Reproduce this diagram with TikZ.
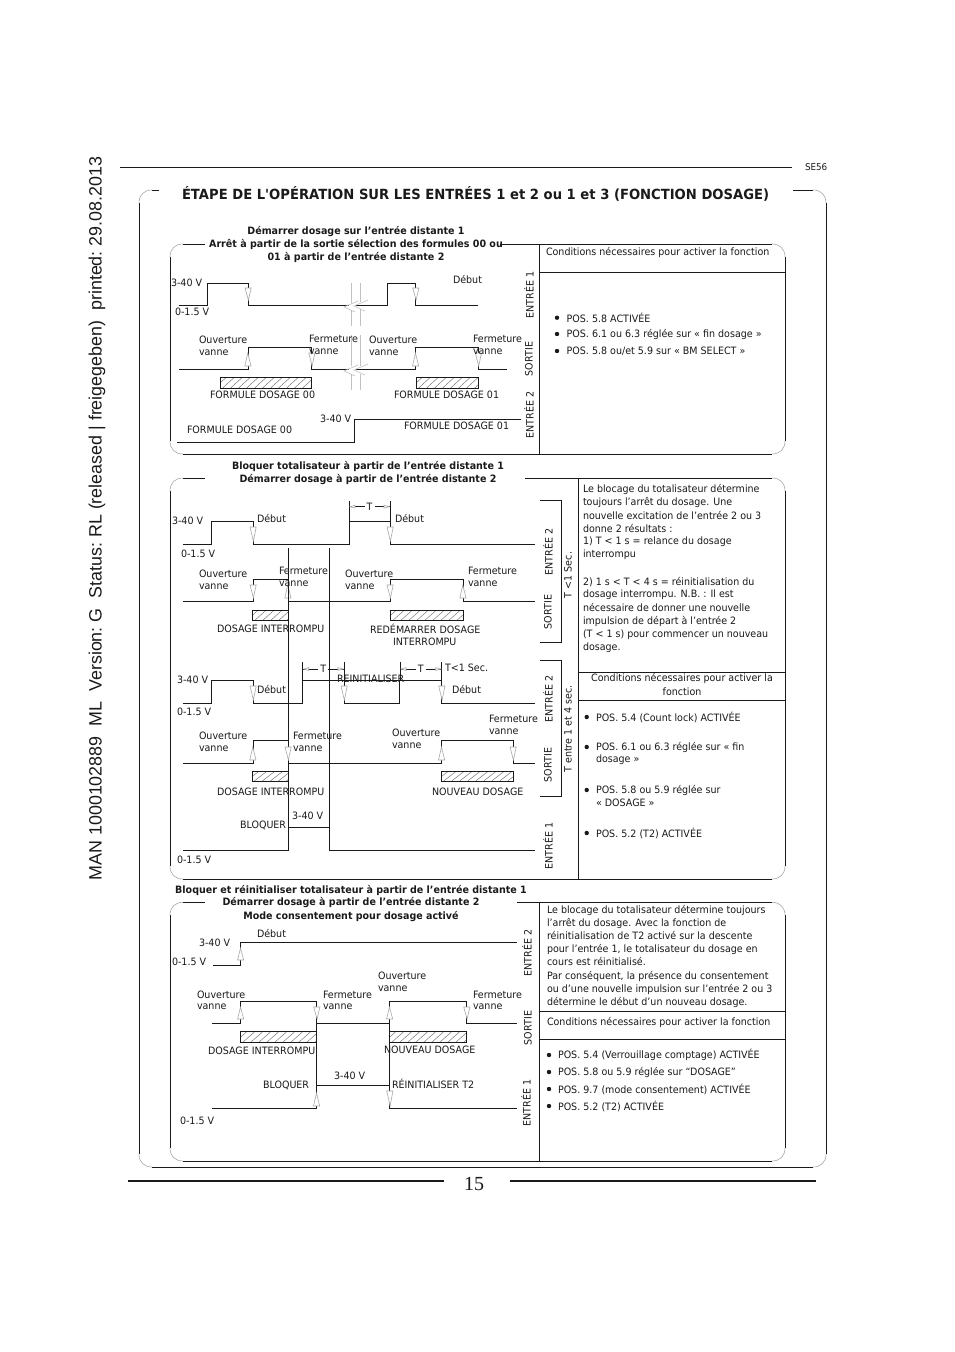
\documentclass[tikz,border=0pt]{standalone}
\usepackage{fontspec}
\setmainfont{DejaVu Sans}[FakeStretch=0.94,Ligatures=TeXOff]
\newfontfamily\sidefont{Liberation Sans}
\newfontfamily\numfont{Liberation Serif}
\newcounter{lbl}
\definecolor{ink}{HTML}{1A1A1A}
\definecolor{tip}{HTML}{A8A8A8}
\tikzset{
  x=0.75pt,y=-0.75pt,
  txt/.style={inner sep=0pt,outer sep=0pt,anchor=west,text=ink,font=\fontsize{7.6pt}{9pt}\selectfont},
  vtxt/.style={txt,anchor=center,rotate=90},
  ctxt/.style={txt,anchor=center},
  ttl/.style={txt,anchor=center,font=\fontsize{7.6pt}{9pt}\selectfont\bfseries},
  sig/.style={draw=ink,line width=0.65pt,line join=miter},
  thin line/.style={draw=ink,line width=0.42pt},
  corner/.style={draw=tip,line width=0.45pt},
  frame line/.style={draw=ink,line width=0.62pt},
  tiptri/.style={draw=tip,line width=0.45pt,fill=white},
  hat/.style={draw=tip!70!black,line width=0.35pt},
  brk/.style={draw=tip!70,line width=0.45pt},
}
\newcommand\lab[3][]{\stepcounter{lbl}\node[txt,#1] (l\arabic{lbl}) at (#2) {#3};}
\newcommand\panel[6]{%
  \draw[frame line] (#1,{#2+13})--(#1,{#4-13}) ({#1+13},#4)--({#3-13},#4) (#3,{#4-13})--(#3,{#2+13}) ({#3-13},#2)--(#6,#2) (#5,#2)--({#1+13},#2);
  \draw[corner] (#1,{#2+13}) .. controls (#1,{#2+5}) and ({#1+5},#2) .. ({#1+13},#2);
  \draw[corner] (#1,{#4-13}) .. controls (#1,{#4-5}) and ({#1+5},#4) .. ({#1+13},#4);
  \draw[corner] (#3,{#2+13}) .. controls (#3,{#2+5}) and ({#3-5},#2) .. ({#3-13},#2);
  \draw[corner] (#3,{#4-13}) .. controls (#3,{#4-5}) and ({#3-5},#4) .. ({#3-13},#4);
}
% triangle with apex down at (x,ybot) / apex up at (x,ytop)
\newcommand\tdown[3]{\draw[tiptri] ({#1-3},#2)--({#1+3.2},#2)--({#1+0.4},#3)--cycle;}
\newcommand\tup[3]{\draw[tiptri] ({#1-3.2},#3)--({#1+3},#3)--({#1-0.2},#2)--cycle;}
\newcommand\hatchbox[4]{%
  \begin{scope}
    \clip (#1,#2) rectangle (#3,#4);
    \foreach \d in {0,8,...,104}{\draw[hat] ({#1+\d-6},#4)--({#1+\d+6},#2);}
  \end{scope}
  \draw[thin line,line width=0.55pt] (#1,#2) rectangle (#3,#4);
}
% T dimension: x1, x2, y, tick top, bottom of left tick, bottom of right tick
\newcommand\tmark[6]{%
  \draw[thin line,line width=0.55pt] (#1,#4)--(#1,#5) (#2,#4)--(#2,#6);
  \draw[thin line] (#1,#3)--({(#1+#2)/2-5},#3) ({(#1+#2)/2+5},#3)--(#2,#3);
  \draw[tiptri] ({#1+1},#3)--({#1+6},{#3-1.4})--({#1+6},{#3+1.4})--cycle;
  \draw[tiptri] ({#2-1},#3)--({#2-6},{#3-1.4})--({#2-6},{#3+1.4})--cycle;
  \lab[ctxt]{{(#1+#2)/2},#3}{T}
}
\newcommand\dotb[2]{\fill[ink] (#1,#2) circle (2.2);}
\begin{document}
\begin{tikzpicture}
\useasboundingbox (0,0) rectangle (954,1352);
\fill[white] (0,0) rectangle (954,1352);
% margin text
\stepcounter{lbl}\node[inner sep=0pt,anchor=center,rotate=90,text=ink,font=\sidefont\fontsize{13.4pt}{16pt}\selectfont] (side) at (97,518.5) {MAN\ 1000102889\ \ ML\ \ Version:\ G\ \ Status:\ RL\ (released\ |\ freigegeben)\ \ printed:\ 29.08.2013};
% header and footer
\draw[frame line] (120,167)--(792,167);
\lab[font=\fontsize{7pt}{8pt}\selectfont]{805,167}{SE56}
\panel{139}{190}{826}{1167}{159}{793}
\lab[font=\fontsize{10.5pt}{12pt}\selectfont\bfseries]{182,194}{ÉTAPE DE L'OPÉRATION SUR LES ENTRÉES 1 et 2 ou 1 et 3 (FONCTION DOSAGE)}
\draw[draw=ink,line width=1.6pt] (128,1181)--(444,1181) (510,1181)--(816,1181);
\stepcounter{lbl}\node[inner sep=0pt,anchor=center,text=ink,font=\numfont\fontsize{15pt}{17pt}\selectfont] (page) at (474,1184) {15};

%% PANEL 1
\panel{170}{244}{785}{454}{205}{500}
\draw[frame line] (539.3,244)--(539.3,454) (539.3,272.3)--(785,272.3);
\lab[ttl]{356,232}{Démarrer dosage sur l’entrée distante 1}
\lab[ttl]{356,245}{Arrêt à partir de la sortie sélection des formules 00 ou}
\lab[ttl]{356,258}{01 à partir de l’entrée distante 2}
\draw[sig] (179,305)--(207.7,305)--(207.7,283.3)--(248,283.3)--(248,305)--(349,305) (356,305)--(387,305)--(387,283.3)--(415.7,283.3)--(415.7,305)--(477.7,305);
\tdown{248}{288}{300}\tdown{415.7}{288}{300}
\draw[sig] (179,369.7)--(248,369.7)--(248,347.3)--(311.7,347.3)--(311.7,369.7)--(349,369.7) (356,369.7)--(415.7,369.7)--(415.7,347.3)--(478.3,347.3)--(478.3,369.7)--(506.7,369.7);
\tup{248}{353}{366}\tdown{311.7}{353}{366}\tup{415.7}{353}{366}\tdown{478.3}{353}{366}
\hatchbox{220.3}{377.3}{311.7}{388.3}\hatchbox{416.3}{377.3}{478.3}{388.3}
\draw[sig] (177,442.3)--(354.3,442.3)--(354.3,419)--(521,419);
% break marks
\draw[brk] (351,283)--(351,303) (351,310)--(351,326) (360.7,283)--(360.7,302) (360.7,309)--(360.7,326);
\draw[brk] (351,335)--(351,366) (351,374)--(351,390) (360.7,335)--(360.7,366) (360.7,374)--(360.7,390);
\draw[brk] (358,301)--(344,307)--(355,312) (368,300)--(354,306)--(365,311);
\draw[brk] (358,365)--(344,371)--(355,376) (368,364)--(354,370)--(365,375);
\lab{171,283}{3-40 V}\lab{175,312}{0-1.5 V}\lab{453,280}{Début}
\lab{199,340}{Ouverture}\lab{199,353}{vanne}
\lab{309,339}{Fermeture}\lab{309,352}{vanne}
\lab{369,340}{Ouverture}\lab{369,353}{vanne}
\lab{473,339}{Fermeture}\lab{473,352}{vanne}
\lab{210,395}{FORMULE DOSAGE 00}\lab{394,395}{FORMULE DOSAGE 01}
\lab{320,419}{3-40 V}\lab{187,430}{FORMULE DOSAGE 00}\lab{404,426}{FORMULE DOSAGE 01}
\lab[vtxt]{529,295}{ENTRÉE 1}\lab[vtxt]{529,359}{SORTIE}\lab[vtxt]{529,415}{ENTRÉE 2}
\lab{546,253}{Conditions nécessaires pour activer la fonction}
\dotb{557}{317.7}\dotb{557}{334}\dotb{557}{351}
\lab{566.7,318}{POS. 5.8 ACTIVÉE}
\lab{566.7,334}{POS. 6.1 ou 6.3 réglée sur « fin dosage »}
\lab{566.7,351}{POS. 5.8 ou/et 5.9 sur « BM SELECT »}

%% PANEL 2
\panel{170}{478}{785}{879}{205}{525}
\draw[frame line] (578.5,478)--(578.5,879) (578.5,672.7)--(785,672.7) (578.5,700.7)--(785,700.7);
\draw[frame line] (540,500)--(561.7,500)--(561.7,642)--(540,642);
\draw[frame line] (540,660)--(561.7,660)--(561.7,796)--(540,796);
\lab[ttl]{368,466}{Bloquer totalisateur à partir de l’entrée distante 1}
\lab[ttl]{368,480}{Démarrer dosage à partir de l’entrée distante 2}
\draw[sig] (183,544.3)--(211,544.3)--(211,521)--(253,521)--(253,544.3)--(349,544.3)--(349,521)--(390,521)--(390,544.3)--(535,544.3);
\tdown{253}{527}{541}\tdown{390}{527}{541}
\draw[sig] (183,601)--(253,601)--(253,579)--(288,579)--(288,601)--(390,601)--(390,579)--(463,579)--(463,601)--(535,601);
\tdown{253}{585}{598}\tup{288}{585}{598}\tdown{390}{585}{598}\tup{463}{585}{598}
\hatchbox{252.3}{610}{288}{620.7}\hatchbox{390.5}{610}{463}{620.7}
\tmark{349}{390}{506.7}{501}{521}{521}
\draw[thin line] (288,548)--(288,851) (329.5,548)--(329.5,851);
\draw[sig] (183,703)--(211,703)--(211,680)--(253,680)--(253,703)--(302.7,703)--(302.7,680)--(344,680)--(344,703)--(399.3,703)--(399.3,680)--(441.7,680)--(441.7,703)--(535,703);
\draw[sig] (344,680)--(399.3,680);
\tdown{253}{686}{700}\tdown{344}{686}{700}\tdown{441.7}{686}{700}
\tmark{302.7}{344}{669}{662}{680}{680}
\tmark{400}{441.7}{669}{662}{680}{680}
\draw[sig] (183,763)--(253,763)--(253,740.7)--(288,740.7)--(288,763)--(441.7,763)--(441.7,740.7)--(513,740.7)--(513,763)--(535,763);
\tup{253}{747}{760}\tdown{288}{747}{760}\tup{441.7}{747}{760}\tdown{513}{747}{760}
\hatchbox{252.3}{771.7}{288}{781}\hatchbox{441.7}{771.7}{513}{781}
\draw[sig] (183,850)--(288,850)--(288,827)--(329.5,827)--(329.5,850)--(535,850);
\lab{172,521}{3-40 V}\lab{257,519}{Début}\lab{181,554}{0-1.5 V}\lab{395,519}{Début}
\lab{199,574}{Ouverture}\lab{199,587}{vanne}
\lab{279,571}{Fermeture}\lab{279,584}{vanne}
\lab{345,574}{Ouverture}\lab{345,587}{vanne}
\lab{468,571}{Fermeture}\lab{468,584}{vanne}
\lab{217,629}{DOSAGE INTERROMPU}
\lab{370,629}{REDÉMARRER DOSAGE}\lab{393,642}{INTERROMPU}
\lab{177,680}{3-40 V}\lab{257,690}{Début}\lab{177,712}{0-1.5 V}
\lab{337,679}{REINITIALISER}\lab{452,690}{Début}\lab{445,668}{T<1 Sec.}
\lab{199,736}{Ouverture}\lab{199,749}{vanne}
\lab{293,736}{Fermeture}\lab{293,749}{vanne}
\lab{392,733}{Ouverture}\lab{392,746}{vanne}
\lab{489,719}{Fermeture}\lab{489,732}{vanne}
\lab{217,792}{DOSAGE INTERROMPU}\lab{432,792}{NOUVEAU DOSAGE}
\lab{240,825}{BLOQUER}\lab{292,816}{3-40 V}\lab{177,860}{0-1.5 V}
\lab[vtxt]{548,552}{ENTRÉE 2}\lab[vtxt]{548,612}{SORTIE}\lab[vtxt]{568,575}{T <1 Sec.}
\lab[vtxt]{548,699}{ENTRÉE 2}\lab[vtxt]{548,765}{SORTIE}\lab[vtxt]{568,729}{T entre 1 et 4 sec.}
\lab[vtxt]{548,846}{ENTRÉE 1}
\lab{583,489}{Le blocage du totalisateur détermine}
\lab{583,502}{toujours l’arrêt du dosage. Une}
\lab{583,516}{nouvelle excitation de l’entrée 2 ou 3}
\lab{583,529}{donne 2 résultats :}
\lab{583,542}{1) T < 1 s = relance du dosage}
\lab{583,555}{interrompu}
\lab{583,582}{2) 1 s < T < 4 s = réinitialisation du}
\lab{583,595}{dosage interrompu. N.B. : Il est}
\lab{583,608}{nécessaire de donner une nouvelle}
\lab{583,621}{impulsion de départ à l’entrée 2}
\lab{583,635}{(T < 1 s) pour commencer un nouveau}
\lab{583,648}{dosage.}
\lab[ctxt]{682,678}{Conditions nécessaires pour activer la}
\lab[ctxt]{682,692}{fonction}
\dotb{586.7}{717}\dotb{586.7}{747}\dotb{586.7}{790}\dotb{586.7}{833}
\lab{596,717}{POS. 5.4 (Count lock) ACTIVÉE}
\lab{596,747}{POS. 6.1 ou 6.3 réglée sur « fin}
\lab{596,760}{dosage »}
\lab{596,790}{POS. 5.8 ou 5.9 réglée sur}
\lab{596,803}{« DOSAGE »}
\lab{596,833}{POS. 5.2 (T2) ACTIVÉE}

%% PANEL 3
\panel{170}{902.3}{785}{1161}{205}{516.7}
\draw[frame line] (539.3,902.3)--(539.3,1161) (539.3,1011)--(785,1011) (539.3,1039.3)--(785,1039.3);
\lab[ttl]{351,890}{Bloquer et réinitialiser totalisateur à partir de l’entrée distante 1}
\lab[ttl]{351,903}{Démarrer dosage à partir de l’entrée distante 2}
\lab[ttl]{351,917}{Mode consentement pour dosage activé}
\draw[sig] (213,965.7)--(240.7,965.7)--(240.7,942.7)--(516.7,942.7);
\tup{240.7}{948}{960}
\draw[sig] (212,1023.3)--(240.7,1023.3)--(240.7,1001.7)--(316.7,1001.7)--(316.7,1023.3)--(389.7,1023.3)--(389.7,1001.7)--(466.7,1001.7)--(466.7,1023.3)--(516.7,1023.3);
\tup{240.7}{1007}{1019}\tdown{316.7}{1007}{1019}\tup{389.7}{1007}{1019}\tdown{466.7}{1007}{1019}
\hatchbox{240.7}{1031.7}{316.7}{1042.3}\hatchbox{389.7}{1031.7}{466.7}{1042.3}
\draw[thin line] (316.7,1023.3)--(316.7,1085.7) (389.7,1023.3)--(389.7,1085.7);
\draw[sig] (212,1108.3)--(316.7,1108.3)--(316.7,1085.7)--(389.7,1085.7)--(389.7,1108.3)--(516.7,1108.3);
\tup{316.7}{1093}{1106}\tdown{389.7}{1091}{1106}
\lab{257,934}{Début}\lab{199,943}{3-40 V}\lab{172,962}{0-1.5 V}
\lab{197,995}{Ouverture}\lab{197,1007}{vanne}
\lab{323,995}{Fermeture}\lab{323,1007}{vanne}
\lab{378,976}{Ouverture}\lab{378,989}{vanne}
\lab{473,995}{Fermeture}\lab{473,1007}{vanne}
\lab{208,1051}{DOSAGE INTERROMPU}\lab{384,1050}{NOUVEAU DOSAGE}
\lab{334,1076}{3-40 V}\lab{263,1085}{BLOQUER}\lab{392,1084}{RÉINITIALISER T2}
\lab{180,1121}{0-1.5 V}
\lab[vtxt]{527,953}{ENTRÉE 2}\lab[vtxt]{528,1028}{SORTIE}\lab[vtxt]{526,1103}{ENTRÉE 1}
\lab{547,910}{Le blocage du totalisateur détermine toujours}
\lab{547,923}{l’arrêt du dosage. Avec la fonction de}
\lab{547,936}{réinitialisation de T2 activé sur la descente}
\lab{547,949}{pour l’entrée 1, le totalisateur du dosage en}
\lab{547,962}{cours est réinitialisé.}
\lab{547,976}{Par conséquent, la présence du consentement}
\lab{547,989}{ou d’une nouvelle impulsion sur l’entrée 2 ou 3}
\lab{547,1002}{détermine le début d’un nouveau dosage.}
\lab{547,1022}{Conditions nécessaires pour activer la fonction}
\dotb{549}{1055}\dotb{549}{1072}\dotb{549}{1089}\dotb{549}{1106}
\lab{558,1055}{POS. 5.4 (Verrouillage comptage) ACTIVÉE}
\lab{558,1072}{POS. 5.8 ou 5.9 réglée sur “DOSAGE”}
\lab{558,1089}{POS. 9.7 (mode consentement) ACTIVÉE}
\lab{558,1106}{POS. 5.2 (T2) ACTIVÉE}
\end{tikzpicture}
\end{document}
